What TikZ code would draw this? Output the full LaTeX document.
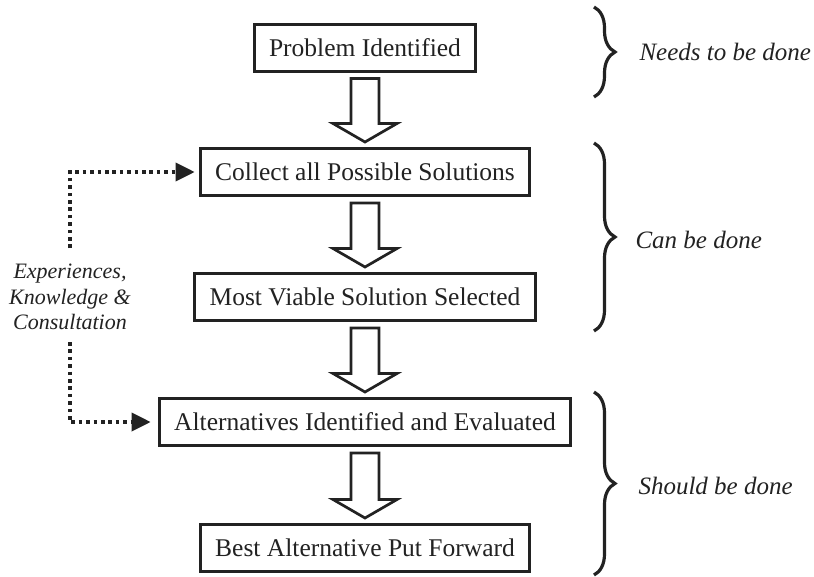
\documentclass[tikz,border=0pt]{standalone}
\usepackage{fontspec}
\setmainfont{Liberation Serif}
\usetikzlibrary{arrows.meta,decorations.pathreplacing,calc}
\definecolor{ink}{HTML}{222222}
\newcommand\flowarrow[2]{%
  \draw[blockarr] let \p1=($(#1.south)+(0,6)$), \p2=($(#2.north)+(0,-5)$) in
    (\x1-14pt,\y1) -- (\x1-14pt,\y2+18.5pt) -- (\x1-32pt,\y2+18.5pt) -- (\x1,\y2)
    -- (\x1+32pt,\y2+18.5pt) -- (\x1+14pt,\y2+18.5pt) -- (\x1+14pt,\y1) -- cycle;}
\begin{document}
\begin{tikzpicture}[x=1pt,y=-1pt,
  box/.style={draw=ink, line width=3pt, fill=white, minimum height=47pt, inner xsep=15pt,
    font=\fontsize{25.5}{30}\selectfont, text=ink},
  blockarr/.style={draw=ink, line width=2.7pt, fill=white, line join=miter},
  dotconn/.style={draw=ink, line width=3.6pt, dash pattern=on 3.6pt off 3.8pt,
    -{Triangle[length=19pt,width=18pt]}},
  bracey/.style={draw=ink, line width=3.2pt, decorate, decoration={brace, amplitude=21pt}},
  tag/.style={font=\fontsize{25}{30}\itshape\selectfont, text=ink, anchor=west},
]
\useasboundingbox[fill=white] (0,0) rectangle (814,576);
% boxes
\node[box] (p)   at (365,47.5) {Problem Identified};
\node[box] (col) at (365,172)  {Collect all Possible Solutions};
\node[box] (mv)  at (365,297)  {Most Viable Solution Selected};
\node[box] (alt) at (365,422)  {Alternatives Identified and Evaluated};
\node[box] (bst) at (365,548)  {Best Alternative Put Forward};
% block arrows
\flowarrow{p}{col}
\flowarrow{col}{mv}
\flowarrow{mv}{alt}
\flowarrow{alt}{bst}
% left label and dotted connectors
\node[font=\fontsize{22}{25.5}\itshape\selectfont, align=center, text=ink] (lab) at (70,297)
  {Experiences,\\Knowledge \&\\Consultation};
\coordinate (c1) at (70,248);
\coordinate (c2) at (70,342);
\draw[dotconn, shorten >=4pt] (c1) |- (col.west);
\draw[dotconn, shorten >=7pt] (c2) |- (alt.west);
% braces
\coordinate (b1a) at (594,7);   \coordinate (b1b) at (594,97);
\coordinate (b2a) at (594,143); \coordinate (b2b) at (594,331);
\coordinate (b3a) at (594,392); \coordinate (b3b) at (594,575);
\draw[bracey] (b1a) -- (b1b);
\draw[bracey] (b2a) -- (b2b);
\draw[bracey] (b3a) -- (b3b);
\node[tag] (t1) at (636,52)  {Needs to be done};
\node[tag] (t2) at (632,240) {Can be done};
\node[tag] (t3) at (635,486) {Should be done};
\end{tikzpicture}
\end{document}
